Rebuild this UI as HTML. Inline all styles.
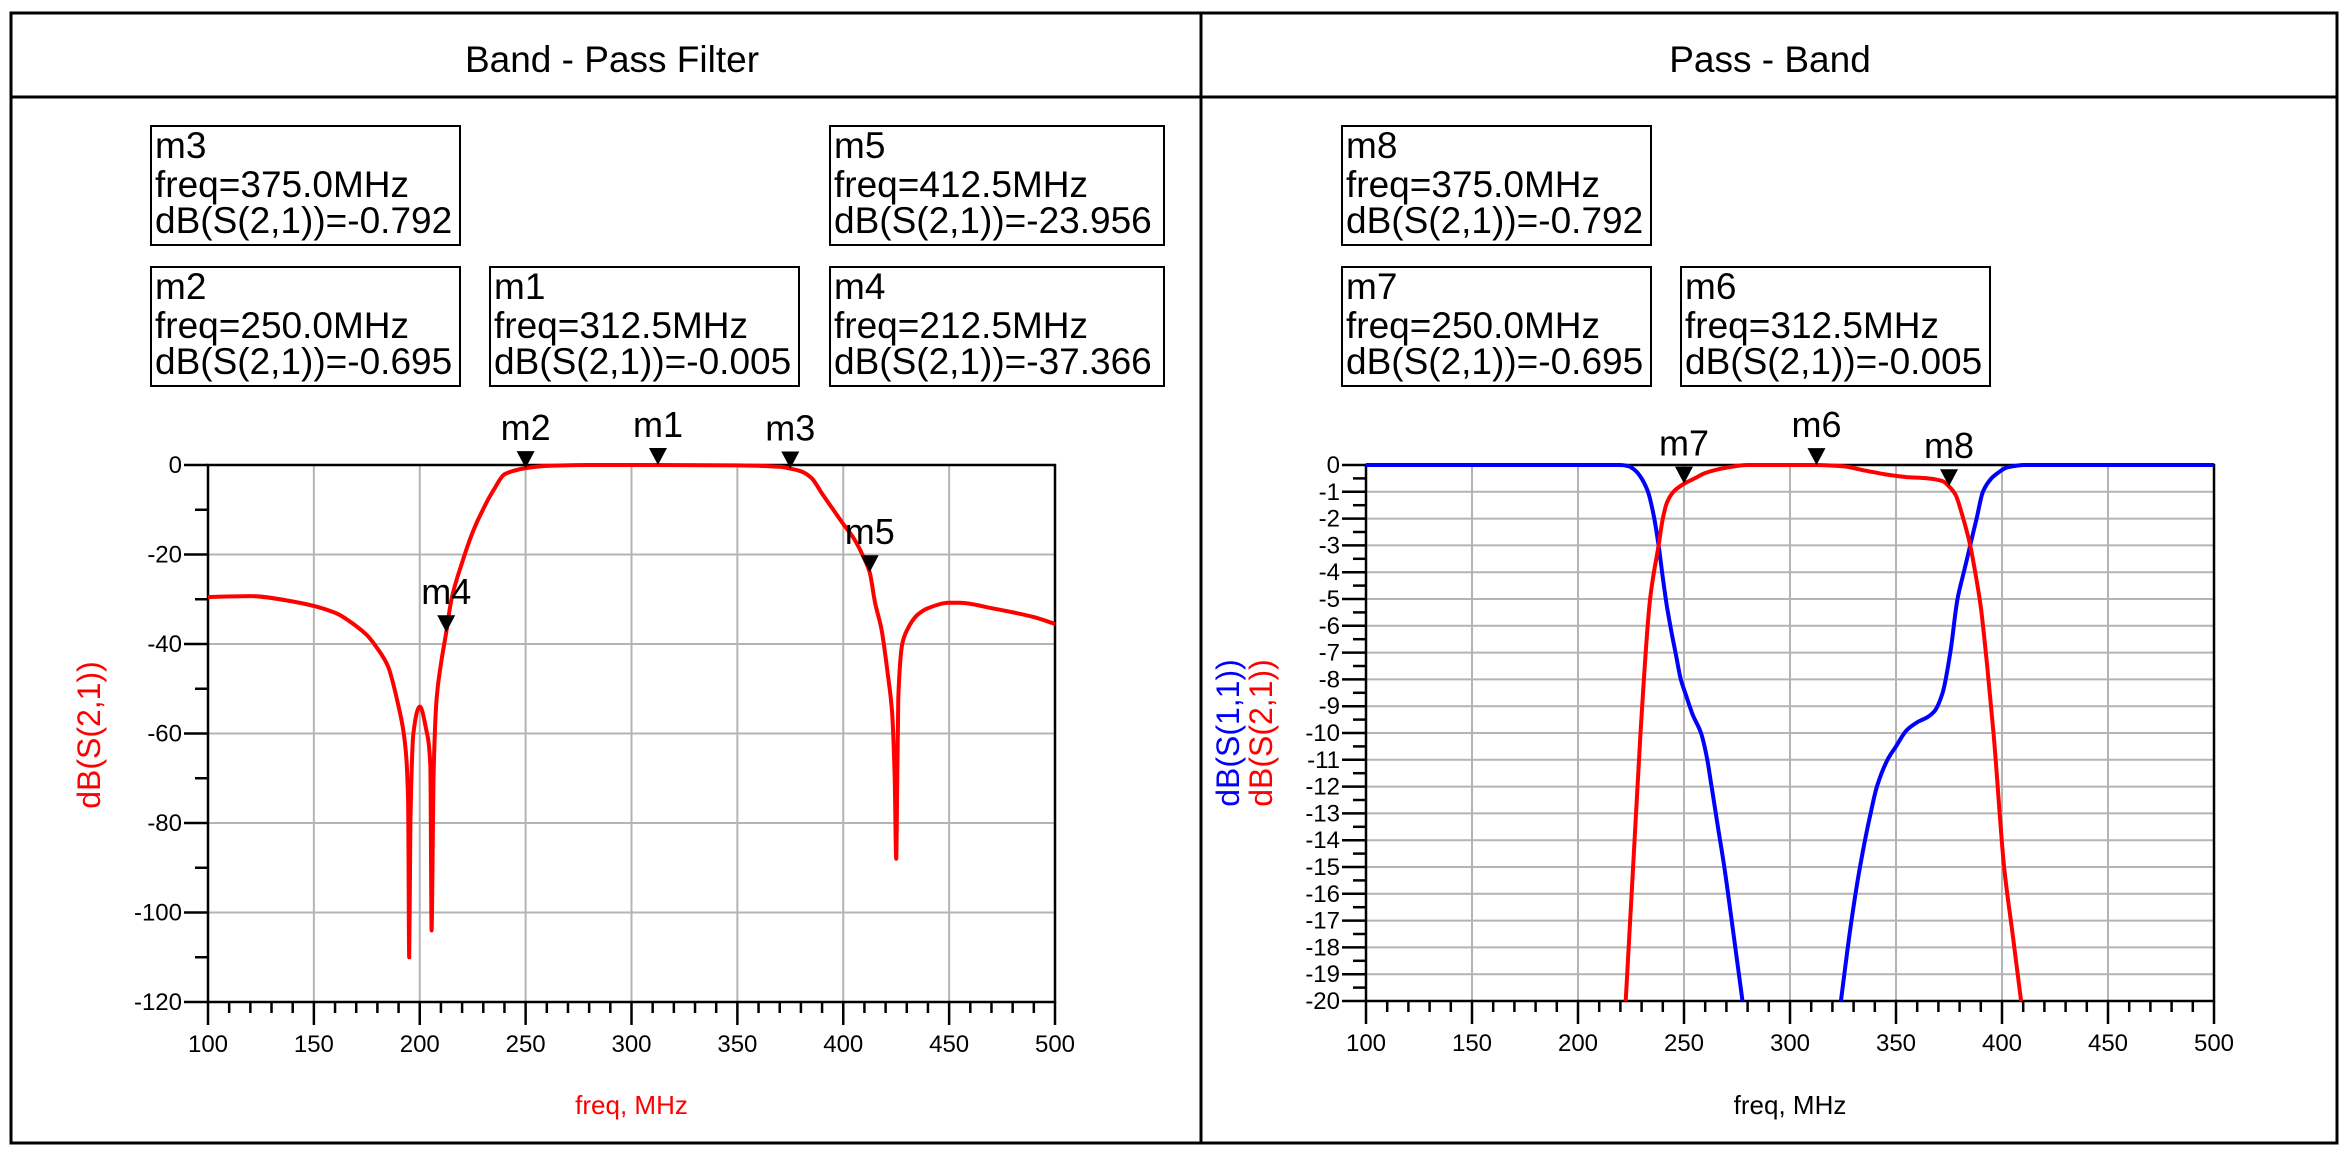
<!DOCTYPE html>
<html><head><meta charset="utf-8"><style>
html,body{margin:0;padding:0;background:#fff;}
svg{display:block;font-family:"Liberation Sans",Arial,sans-serif;}
</style></head><body>
<svg id="chart" width="2340" height="1156" viewBox="0 0 2340 1156" xmlns="http://www.w3.org/2000/svg">
<rect x="0" y="0" width="2340" height="1156" fill="#fff"/>
<g fill="none" stroke="#000" stroke-width="3">
<rect x="11" y="13" width="2326" height="1130"/>
<line x1="11" y1="97" x2="2337" y2="97"/>
<line x1="1201" y1="13" x2="1201" y2="1143"/>
</g>
<text x="612" y="72" font-size="37" text-anchor="middle">Band - Pass Filter</text>
<text x="1770" y="72" font-size="37" text-anchor="middle">Pass - Band</text>
<g id="boxes"></g>
<g id="plotL"></g>
<g id="plotR"></g>
</svg>
<script>
const freqL=[100,120,140,160,170,175,180,185,190,193,194.5,195,195.6,197,200,203,205,205.6,206,206.5,208,210,212.5,215,220,225,230,235,240,245,250,260,280,312.5,350,370,375,380,385,390,395,400,405,410,412.5,415,418,421,423,424.3,425,425.4,426,428,430,435,440,450,455,470,490,500];
const s21L=[-29.5,-29.3,-30.5,-33,-36,-38,-41,-45,-54,-62,-75,-110,-80,-60,-54,-59,-67,-104,-90,-70,-52,-44.5,-37.4,-30,-21.8,-15,-9.8,-5.5,-2.1,-1.2,-0.7,-0.2,0,0,-0.1,-0.4,-0.8,-1.4,-2.9,-6.4,-9.8,-13.2,-16.4,-21,-24,-30.7,-36.6,-46.6,-55,-70,-88,-75,-52,-39.7,-37,-33.5,-32,-30.8,-30.8,-32,-34,-35.5];
const freqR21=[222.5,226,229.5,234,238,240,242,245,250,255,260,270,280,300,312.5,325,335,345,355,365,372,375,378,381,385,388,390,393,396,401,405,409];
const s21R=[-20,-15,-10,-5,-3,-2,-1.4,-1,-0.7,-0.5,-0.3,-0.1,0,0,0,-0.05,-0.2,-0.35,-0.45,-0.5,-0.6,-0.8,-1.1,-1.8,-3,-4.3,-5.3,-7.5,-10,-15,-17.5,-20];
const freqR11a=[100,220,224,227,230,233,236,238,240,242,244,246,248.5,251,254,258,261,263,266,269,272.5,277.6];
const s11Ra=[0,0,-0.05,-0.2,-0.5,-1,-2,-3,-4.2,-5.3,-6.2,-7,-8,-8.6,-9.3,-10,-11,-12,-13.5,-15,-17,-20];
const freqR11b=[324,329,333,338,341,346,350,355,360,365,368,372,375.6,379,382,385,388,391,395,398,402,405,410,500];
const s11Rb=[-20,-17,-15,-13,-12,-11,-10.5,-9.9,-9.6,-9.4,-9.2,-8.5,-7,-5,-4,-3,-2,-1,-0.5,-0.3,-0.1,-0.05,0,0];
const markerNamesL=["m1","m2","m3","m4","m5"];
const markerFreqL=[312.5,250,375,212.5,412.5];
const markerValL=[-0.005,-0.695,-0.792,-37.366,-23.956];
const markerNamesR=["m6","m7","m8"];
const markerFreqR=[312.5,250,375];
const markerValR=[-0.005,-0.695,-0.792];
const xTicks=[100,150,200,250,300,350,400,450,500];
const yTicksL=[0,-20,-40,-60,-80,-100,-120];
const yTicksR=[0,-1,-2,-3,-4,-5,-6,-7,-8,-9,-10,-11,-12,-13,-14,-15,-16,-17,-18,-19,-20];

const NS="http://www.w3.org/2000/svg";
function mk(tag,attrs,parent){const e=document.createElementNS(NS,tag);for(const k in attrs)e.setAttribute(k,attrs[k]);parent.appendChild(e);return e;}

function monoPath(xs,ys){
 const n=xs.length;const d=[],m=new Array(n);
 for(let i=0;i<n-1;i++)d.push((ys[i+1]-ys[i])/(xs[i+1]-xs[i]));
 m[0]=d[0];m[n-1]=d[n-2];
 for(let i=1;i<n-1;i++){ if(d[i-1]*d[i]<=0)m[i]=0; else {const w1=2*(xs[i+1]-xs[i])+(xs[i]-xs[i-1]),w2=(xs[i+1]-xs[i])+2*(xs[i]-xs[i-1]);m[i]=(w1+w2)/(w1/d[i-1]+w2/d[i]);} }
 let p='M'+xs[0].toFixed(1)+','+ys[0].toFixed(1);
 for(let i=0;i<n-1;i++){const h=xs[i+1]-xs[i];
  p+=' C'+(xs[i]+h/3).toFixed(1)+','+(ys[i]+m[i]*h/3).toFixed(1)+' '+(xs[i+1]-h/3).toFixed(1)+','+(ys[i+1]-m[i+1]*h/3).toFixed(1)+' '+xs[i+1].toFixed(1)+','+ys[i+1].toFixed(1);}
 return p;
}

const boxes=document.getElementById('boxes');
const boxDefs=[
 [151,126,309,"m3","375.0","-0.792"],[830,126,334,"m5","412.5","-23.956"],
 [151,267,309,"m2","250.0","-0.695"],[490,267,309,"m1","312.5","-0.005"],[830,267,334,"m4","212.5","-37.366"],
 [1342,126,309,"m8","375.0","-0.792"],[1342,267,309,"m7","250.0","-0.695"],[1681,267,309,"m6","312.5","-0.005"]];
boxDefs.forEach(b=>{
 const g=mk('g',{},boxes);
 
 
 mk('rect',{x:b[0],y:b[1],width:b[2],height:119,fill:'#fff',stroke:'#000','stroke-width':2},g);
 const lines=[b[3],'freq='+b[4]+'MHz','dB(S(2,1))='+b[5]];
 lines.forEach((t,i)=>{const tx=mk('text',{x:b[0]+4,y:b[1]+32+[0,39,75][i],'font-size':37},g);tx.textContent=t;});
});

function plot(gid,x0,x1,y0,y1,ymin,ymax,yTicks,yMinorStep,series,mNames,mF,mV,xlabelColor,ylabels){
 const g=document.getElementById(gid);
 const sx=f=>x0+(f-100)/400*(x1-x0);
 const sy=v=>y0+(ymax-v)/(ymax-ymin)*(y1-y0);
 const grid=mk('g',{stroke:'#b4b4b4','stroke-width':2},g);
 
 
 xTicks.forEach(t=>mk('line',{x1:sx(t),y1:y0,x2:sx(t),y2:y1},grid));
 yTicks.forEach(t=>mk('line',{x1:x0,y1:sy(t),x2:x1,y2:sy(t)},grid));
 const ax=mk('g',{stroke:'#000','stroke-width':2.5,fill:'none'},g);
 
 
 mk('rect',{x:x0,y:y0,width:x1-x0,height:y1-y0},ax);
 for(let f=100;f<=500;f+=10){const maj=(f%50===0);mk('line',{x1:sx(f),y1:y1,x2:sx(f),y2:y1+(maj?23:11)},ax);}
 for(let v=ymax;v>=ymin-1e-9;v-=yMinorStep){const maj=yTicks.some(t=>Math.abs(t-v)<1e-6);mk('line',{x1:x0-(maj?24:13),y1:sy(v),x2:x0,y2:sy(v)},ax);}
 const xl=mk('g',{'font-size':24,'text-anchor':'middle'},g);
 
 
 xTicks.forEach(t=>{const e=mk('text',{x:sx(t),y:y1+50},xl);e.textContent=t;});
 const yl=mk('g',{'font-size':24,'text-anchor':'end'},g);
 
 
 yTicks.forEach(t=>{const e=mk('text',{x:x0-26,y:sy(t)+8},yl);e.textContent=t;});
 series.forEach(s=>{
  const pth=mk('path',{d:monoPath(s.f.map(sx),s.v.map(sy)),fill:'none',stroke:s.c,'stroke-width':4,'stroke-linejoin':'round'},g);
  
  
 });
 mNames.forEach((n,i)=>{
  const mx=sx(mF[i]),my=sy(mV[i]);
  const mg=mk('g',{},g);
  
  
  mk('polygon',{points:`${mx-9},${my-17} ${mx+9},${my-17} ${mx},${my}`,fill:'#000'},mg);
  const t=mk('text',{x:mx,y:my-28,'font-size':36,'text-anchor':'middle'},mg);t.textContent=n;
 });
 const xt=mk('text',{x:(x0+x1)/2,y:1114,'font-size':26,'text-anchor':'middle',fill:xlabelColor},g);
 
 
 xt.textContent='freq, MHz';
 ylabels.forEach(l=>{
  const t=mk('text',{x:0,y:0,'font-size':32,'text-anchor':'middle',fill:l.c,transform:`translate(${l.x},${l.y}) rotate(-90)`},g);
  
  
  t.textContent=l.t;
 });
}
plot('plotL',208,1055,465,1002,-120,0,yTicksL,10,
 [{f:freqL,v:s21L,c:'#ff0000',n:'s21-curve'}],markerNamesL,markerFreqL,markerValL,'#ff0000',
 [{x:100,y:735,t:'dB(S(2,1))',c:'#ff0000'}]);
plot('plotR',1366,2214,465,1001,-20,0,yTicksR,0.5,
 [{f:freqR11a,v:s11Ra,c:'#0000ff',n:'s11-curve-low'},{f:freqR11b,v:s11Rb,c:'#0000ff',n:'s11-curve-high'},{f:freqR21,v:s21R,c:'#ff0000',n:'s21-curve'}],
 markerNamesR,markerFreqR,markerValR,'#000000',
 [{x:1239,y:733,t:'dB(S(1,1))',c:'#0000ff'},{x:1272,y:733,t:'dB(S(2,1))',c:'#ff0000'}]);
</script>
</body></html>
